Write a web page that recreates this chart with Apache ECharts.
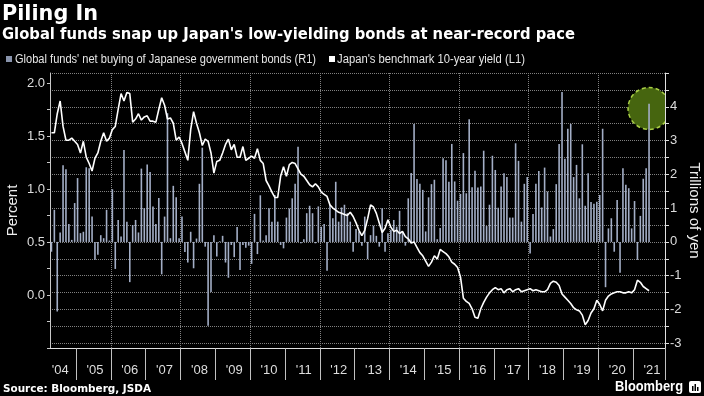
<!DOCTYPE html>
<html>
<head>
<meta charset="utf-8">
<script src="https://cdn.jsdelivr.net/npm/echarts@6/dist/echarts.min.js"></script>
<style>
	html, body { margin: 0; padding: 0; background: #000; }
	#chart { width: 704px; height: 396px; }
</style>
</head>
<body>
<div id="chart"></div>
<script>
// 月度类目：2004-04 开始，坐标轴一直画到 2021-11
const firstYear = 2004
const firstMonth = 4
const monthCount = 212
const months = []
for (let k = 0; k < monthCount; k++) {
	const m = firstMonth - 1 + k
	months.push((firstYear + Math.floor(m / 12)) + '-' + String(m % 12 + 1).padStart(2, '0'))
}
// 第 i 个类目是几月（1~12）、哪一年
const monthOf = i => (firstMonth - 1 + i) % 12 + 1
const yearOf = i => firstYear + Math.floor((firstMonth - 1 + i) / 12)

// 海外资金净买入日本国债（万亿日元，右轴）
const netBuying = [
	-0.29, 0.95, -2.06, 0.28, 2.27, 2.15, 0.53, 0.06, 1.15,
	1.89, 0.26, 0.30, 2.21, 2.18, 0.75, -0.53, -0.38, 0.20, 0.11, 0.95, 0.04,
	1.56, -0.80, 0.65, 0.16, 2.72, 0.60, -1.19, 0.50, 0.65, 0.28, 2.17, 1.00,
	2.29, 2.07, 1.05, 0.53, 1.30, -0.96, 0.75, 3.81, 0.11, 1.66, 1.32, 0.11,
	0.75, -0.30, -0.61, 0.30, -0.78, 0.10, 1.72, 2.79, -0.14, -2.48, -1.48, 0.20,
	-0.43, 0.02, 0.18, -0.61, -1.06, -0.09, -0.45, 0.44, -0.83, -0.09, -0.17, -0.11,
	-0.65, 0.83, -0.36, 1.38, 0.04, 0.20, 1.00, 0.60, 1.39, 0.60, -0.09, -0.19,
	0.72, 0.99, 1.29, 1.72, 2.82, -0.04, 0.08, 0.85, 1.07, 0.85, -0.04, 1.05,
	0.45, 0.53, -0.85, 1.10, 0.70, 1.78, 0.60, 1.02, 1.10, 0.85, 0.60, -0.29,
	0.38, 0.31, -0.11, 0.75, -0.51, 0.20, 0.48, 0.18, -0.14, 1.00, -0.29, 0.26,
	0.36, 0.65, 0.45, 0.92, 0.30, -0.11, 1.29, 2.04, 3.49, 1.86, 1.72, 1.54,
	0.31, 1.32, 1.71, 1.84, 0.08, 0.41, 2.48, 2.42, 1.78, 2.90, 1.79, 1.22,
	1.42, 2.63, 1.44, 3.63, 1.62, 2.11, 1.61, 1.64, 2.70, 0.47, 1.10, 2.55,
	2.13, 1.01, 1.64, 2.03, 1.92, 0.72, 0.72, 2.92, 2.40, 0.60, 1.72, 1.92,
	-0.34, 0.83, 1.72, 2.10, 1.02, 2.20, 1.49, 0.16, 0.38, 1.71, 2.90, 4.44,
	2.46, 3.35, 3.49, 1.92, 2.28, 1.29, 2.89, 1.07, 2.03, 1.18, 1.13, 1.19,
	1.39, 3.35, -1.34, 0.40, 0.70, -0.29, 1.24, -0.91, 2.18, 1.69, 1.59, 0.40,
	1.21, -0.53, 0.77, 1.87, 2.18, 4.09
]

// 日本10年期国债收益率（%，左轴）
const yield10y = [
	1.53, 1.53, 1.71, 1.83, 1.59, 1.46, 1.46, 1.48, 1.45,
	1.42, 1.34, 1.45, 1.30, 1.24, 1.17, 1.29, 1.34, 1.45, 1.53, 1.45, 1.48,
	1.56, 1.59, 1.75, 1.90, 1.83, 1.91, 1.90, 1.63, 1.66, 1.71, 1.65, 1.68,
	1.69, 1.64, 1.64, 1.63, 1.75, 1.86, 1.79, 1.66, 1.67, 1.62, 1.46, 1.49,
	1.43, 1.35, 1.27, 1.56, 1.73, 1.62, 1.53, 1.41, 1.47, 1.45, 1.34, 1.15,
	1.26, 1.27, 1.34, 1.42, 1.47, 1.37, 1.42, 1.30, 1.30, 1.40, 1.27, 1.29,
	1.31, 1.29, 1.38, 1.27, 1.24, 1.08, 1.03, 0.97, 0.92, 0.92, 1.12, 1.21,
	1.12, 1.23, 1.25, 1.24, 1.19, 1.14, 1.12, 1.08, 1.04, 1.02, 1.05, 1.02,
	0.97, 0.95, 0.93, 0.85, 0.82, 0.80, 0.78, 0.77, 0.76, 0.75, 0.78, 0.74,
	0.68, 0.61, 0.56, 0.61, 0.72, 0.85, 0.83, 0.77, 0.68, 0.59, 0.63, 0.71,
	0.64, 0.60, 0.61, 0.58, 0.60, 0.55, 0.53, 0.49, 0.50, 0.45, 0.40, 0.37,
	0.32, 0.27, 0.31, 0.37, 0.34, 0.43, 0.41, 0.39, 0.36, 0.31, 0.29, 0.26,
	0.17, -0.03, -0.06, -0.08, -0.13, -0.21, -0.22, -0.13, -0.07, -0.02, 0.02, 0.05,
	0.07, 0.05, 0.06, 0.02, 0.05, 0.06, 0.03, 0.05, 0.06, 0.03, 0.04, 0.05,
	0.06, 0.04, 0.05, 0.04, 0.03, 0.03, 0.05, 0.11, 0.13, 0.12, 0.09, 0.01,
	-0.02, -0.05, -0.08, -0.12, -0.14, -0.15, -0.19, -0.28, -0.24, -0.17, -0.13, -0.05,
	-0.09, -0.15, -0.05, -0.01, 0.01, 0.02, 0.03, 0.03, 0.02, 0.02, 0.03, 0.02,
	0.05, 0.14, 0.12, 0.08, 0.06, 0.04
]

// 最后一个月被圈出来
const highlight = [[months[netBuying.length - 1], 3.95]]

// 刻度
const pctLabels = [0, 0.5, 1, 1.5, 2]
const pctTicks = [-0.5, -0.25, 0, 0.25, 0.5, 0.75, 1, 1.25, 1.5, 1.75, 2]
const yenLabels = [-3, -2, -1, 0, 1, 2, 3, 4]
const yenTicks = [-3, -2.5, -2, -1.5, -1, -0.5, 0, 0.5, 1, 1.5, 2, 2.5, 3, 3.5, 4, 4.5, 5]

const barName = "Global funds' net buying of Japanese government bonds (R1)"
const lineName = "Japan's benchmark 10-year yield (L1)"

// 文字横向压缩到参考图的宽度（彭博字体比较窄）
const ctx = document.createElement('canvas').getContext('2d')
function text(str, x, y, size, weight, width, family, color) {
	const font = weight + ' ' + size + 'px ' + family
	ctx.font = font
	return {
		type: 'text', x: x, y: y, silent: true,
		scaleX: width / ctx.measureText(str).width,
		style: { text: str, font: font, fill: color || '#fff', verticalAlign: 'middle' }
	}
}
const sans = '"Liberation Sans"'
const dejavu = '"DejaVu Sans"'

const grid = '#808080'
const labelColor = '#dddddd'

const myChart = echarts.init(document.getElementById('chart'))
myChart.setOption({
	backgroundColor: '#000',
	animation: false,
	// v6 默认会把坐标区往里缩，这里关掉
	grid: { left: 50, right: 39, top: 73, bottom: 48, outerBoundsMode: 'none', containLabel: false },
	graphic: [
		text('Piling In', 2, 15, 21, 'bold', 96, dejavu),
		text("Global funds snap up Japan's low-yielding bonds at near-record pace", 2, 35, 15, 'bold', 573, dejavu),
		{ type: 'rect', shape: { x: 6, y: 56, width: 6, height: 6 }, style: { fill: '#8893ab' }, silent: true },
		text(barName, 15, 59.5, 12, 'normal', 301, sans, '#e6e6e6'),
		{ type: 'rect', shape: { x: 329, y: 56, width: 6, height: 6 }, style: { fill: '#fff' }, silent: true },
		text(lineName, 337, 59.5, 12, 'normal', 188, sans, '#e6e6e6'),
		text('Source: Bloomberg, JSDA', 3, 389, 11, 'bold', 148, dejavu),
		text('Bloomberg', 615, 387, 15, 'bold', 68, sans),
		{ type: 'rect', shape: { x: 689, y: 381, width: 12, height: 12, r: 2 }, style: { fill: '#fff' }, silent: true },
		{ type: 'rect', shape: { x: 692, y: 386, width: 1.5, height: 5 }, style: { fill: '#000' }, silent: true },
		{ type: 'rect', shape: { x: 694.5, y: 384, width: 1.5, height: 7 }, style: { fill: '#000' }, silent: true },
		{ type: 'rect', shape: { x: 697, y: 387, width: 1.5, height: 4 }, style: { fill: '#000' }, silent: true }
	],
	xAxis: {
		type: 'category',
		data: months,
		boundaryGap: true,
		axisLine: { onZero: false, lineStyle: { color: '#e0e0e0' } },
		axisTick: {
			show: true,
			interval: i => monthOf(i) === 1,
			length: 32,
			lineStyle: { color: '#c0c0c0', width: 1 }
		},
		axisLabel: {
			interval: i => monthOf(i) === 7,
			formatter: v => "'" + v.slice(2, 4),
			color: labelColor, fontSize: 13, margin: 16, fontFamily: 'Liberation Sans'
		},
		splitLine: {
			show: true,
			interval: i => monthOf(i) === 1 && yearOf(i) % 2 === 0,
			lineStyle: { color: grid, type: 'dotted' }
		}
	},
	yAxis: [
		{
			type: 'value', position: 'left',
			min: -0.5, max: 2.094, interval: 0.5,
			name: 'Percent', nameLocation: 'middle', nameGap: 30, nameMoveOverlap: false,
			nameTextStyle: { color: '#eee', fontSize: 15, fontFamily: 'Liberation Sans' },
			axisLine: { show: true, lineStyle: { color: '#c8c8c8' } },
			axisTick: { show: true, length: 3, customValues: pctTicks, lineStyle: { color: '#c8c8c8' } },
			axisLabel: {
				customValues: pctLabels, formatter: v => v.toFixed(1),
				color: labelColor, fontSize: 13, margin: 5, fontFamily: 'Liberation Sans'
			},
			splitLine: { show: false }
		},
		{
			type: 'value', position: 'right',
			min: -3.14, max: 5, splitNumber: 8,
			name: 'Trillions of yen', nameLocation: 'middle', nameRotate: -90, nameGap: 22, nameMoveOverlap: false,
			nameTextStyle: { color: '#eee', fontSize: 15, fontFamily: 'Liberation Sans' },
			axisLine: { show: true, lineStyle: { color: '#e0e0e0' } },
			axisTick: { show: true, length: 4, customValues: yenTicks, lineStyle: { color: '#e0e0e0' } },
			axisLabel: {
				customValues: yenLabels, formatter: v => String(v),
				color: labelColor, fontSize: 13, margin: 5, fontFamily: 'Liberation Sans'
			},
			splitLine: { show: true, lineStyle: { color: grid, type: 'dotted' } }
		}
	],
	series: [
		{
			// 绿色虚线圈，放在柱子下面，超出坐标区的部分裁掉
			type: 'custom',
			yAxisIndex: 1,
			data: highlight,
			clip: true,
			silent: true,
			renderItem: (params, api) => {
				const p = api.coord([api.value(0), api.value(1)])
				return {
					type: 'circle',
					shape: { cx: p[0], cy: p[1], r: 21 },
					style: { fill: '#46650f', stroke: '#a9cf45', lineWidth: 1.5, lineDash: [4, 3] }
				}
			}
		},
		{
			name: barName,
			type: 'bar',
			yAxisIndex: 1,
			data: netBuying,
			barWidth: 1.6,
			itemStyle: { color: '#a3aec6' }
		},
		{
			name: lineName,
			type: 'line',
			yAxisIndex: 0,
			data: yield10y,
			symbol: 'none',
			lineStyle: { color: '#fff', width: 1.6 }
		}
	]
})
</script>
</body>
</html>
